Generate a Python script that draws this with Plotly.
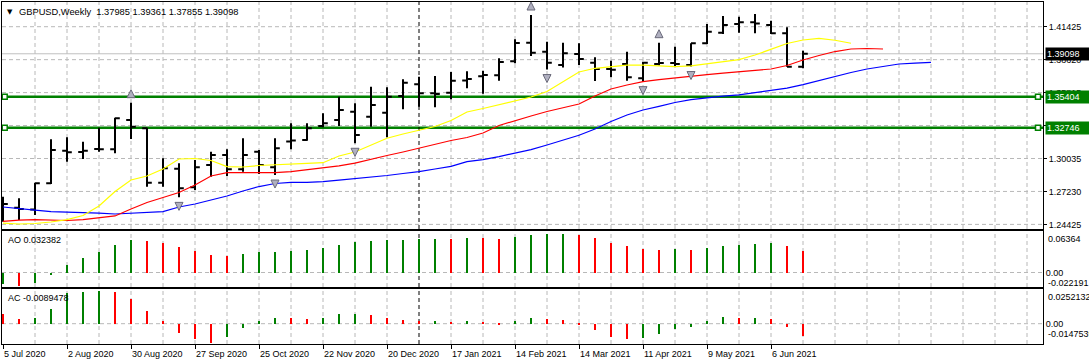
import plotly.graph_objects as go

# ---------------- data ----------------
bar_open = [1.2490, 1.2585, 1.2570, 1.2796, 1.3076, 1.3065, 1.3091, 1.3088, 1.3340, 1.3269,
            1.2801, 1.2922, 1.2761, 1.2953, 1.3039, 1.2916, 1.3068, 1.2933, 1.3155, 1.3168,
            1.3289, 1.3340, 1.3412, 1.3369, 1.3403, 1.3547, 1.3647, 1.3570, 1.3575, 1.3681,
            1.3716, 1.3724, 1.3845, 1.4005, 1.3928, 1.3813, 1.3908, 1.3833, 1.3779, 1.3822,
            1.3699, 1.3822, 1.3830, 1.3813, 1.4000, 1.4091, 1.4165, 1.4180, 1.4157, 1.4086,
            1.37985]
bar_high = [1.2681, 1.2667, 1.2801, 1.3174, 1.3191, 1.3154, 1.3274, 1.3360, 1.3489, 1.3274,
            1.3011, 1.2968, 1.2996, 1.3068, 1.3088, 1.3183, 1.3082, 1.3183, 1.3312, 1.3312,
            1.3398, 1.3541, 1.3484, 1.3627, 1.3621, 1.3690, 1.3713, 1.3719, 1.3753, 1.3759,
            1.3764, 1.3871, 1.4034, 1.4243, 1.4014, 1.4005, 1.4000, 1.3879, 1.3850, 1.3928,
            1.3842, 1.4005, 1.3971, 1.4000, 1.4166, 1.4235, 1.4229, 1.4252, 1.4194, 1.4137,
            1.39361]
bar_low = [1.2466, 1.2480, 1.2523, 1.2790, 1.2982, 1.3005, 1.3068, 1.3054, 1.3177, 1.2767,
           1.2767, 1.2675, 1.2738, 1.2853, 1.2859, 1.2896, 1.2876, 1.2867, 1.3088, 1.3162,
           1.3277, 1.3289, 1.3140, 1.3283, 1.3191, 1.3432, 1.3455, 1.3449, 1.3518, 1.3613,
           1.3566, 1.3678, 1.3828, 1.3891, 1.3774, 1.3792, 1.3813, 1.3676, 1.3707, 1.3678,
           1.3670, 1.3809, 1.3805, 1.3800, 1.3994, 1.4080, 1.4091, 1.4086, 1.4080, 1.3798,
           1.37855]
bar_close = [1.2618, 1.2575, 1.2796, 1.3082, 1.3062, 1.3076, 1.3088, 1.3355, 1.3283, 1.2801,
             1.2925, 1.2753, 1.2933, 1.3039, 1.2916, 1.3039, 1.2953, 1.3097, 1.3164, 1.3269,
             1.3312, 1.3426, 1.3211, 1.3469, 1.3541, 1.3661, 1.3570, 1.3564, 1.3678, 1.3693,
             1.3727, 1.3839, 1.4002, 1.3919, 1.3833, 1.3914, 1.3865, 1.3779, 1.3772, 1.3707,
             1.3833, 1.3830, 1.3822, 1.4000, 1.4100, 1.4157, 1.4180, 1.4170, 1.4086, 1.3798,
             1.39098]

# Alligator lines (already shifted forward, one value per bar slot)
jaw = [1.2592, 1.2576, 1.2566, 1.2552, 1.2549, 1.2546, 1.2540, 1.2532, 1.2538, 1.2545,
       1.2552, 1.2592, 1.2618, 1.2652, 1.2687, 1.2730, 1.2768, 1.2794, 1.2803, 1.2804,
       1.2810, 1.2824, 1.2835, 1.2847, 1.2863, 1.2880, 1.2896, 1.2919, 1.2942, 1.2982,
       1.3000, 1.3026, 1.3056, 1.3086, 1.3125, 1.3168, 1.3209, 1.3263, 1.3327, 1.3383,
       1.3426, 1.3458, 1.3491, 1.3516, 1.3534, 1.3546, 1.3557, 1.3577, 1.3594, 1.3615,
       1.3645, 1.3680, 1.3716, 1.3749, 1.3779, 1.3802, 1.3822, 1.3830, 1.3836]
teeth = [1.2469, 1.2480, 1.2484, 1.2482, 1.2476, 1.2484, 1.2502, 1.2515, 1.2575, 1.2631,
         1.2674, 1.2717, 1.2781, 1.2859, 1.2887, 1.2887, 1.2887, 1.2887, 1.2897, 1.2914,
         1.2932, 1.2945, 1.2970, 1.3005, 1.3035, 1.3065, 1.3097, 1.3134, 1.3164, 1.3190,
         1.3228, 1.3293, 1.3336, 1.3375, 1.3413, 1.3448, 1.3478, 1.3546, 1.3607, 1.3641,
         1.3670, 1.3688, 1.3704, 1.3717, 1.3731, 1.3744, 1.3757, 1.3770, 1.3779, 1.3809,
         1.3856, 1.3895, 1.3929, 1.3951, 1.3955, 1.3951]
lips = [1.2454, 1.2446, 1.2450, 1.2463, 1.2484, 1.2519, 1.2601, 1.2725, 1.2824, 1.2859,
        1.2919, 1.3005, 1.3009, 1.2992, 1.2940, 1.2936, 1.2949, 1.2957, 1.2964, 1.2968,
        1.2973, 1.3031, 1.3065, 1.3125, 1.3183, 1.3220, 1.3254, 1.3284, 1.3336, 1.3409,
        1.3439, 1.3473, 1.3504, 1.3538, 1.3585, 1.3670, 1.3753, 1.3785, 1.3799, 1.3813,
        1.3813, 1.3805, 1.3799, 1.3805, 1.3824, 1.3839, 1.3860, 1.3899, 1.3951, 1.3998,
        1.4028, 1.4043, 1.4026, 1.4000]

fractal_up_idx = [8, 33, 41, 47]
fractal_down_idx = [11, 17, 22, 34, 40, 43]

ao_values = [-0.0176, -0.0200, -0.0156, -0.0035, 0.0111, 0.0217, 0.0322, 0.0428, 0.0504, 0.0488,
             0.0458, 0.0398, 0.0337, 0.0262, 0.0247, 0.0277, 0.0307, 0.0322, 0.0337, 0.0352,
             0.0383, 0.0428, 0.0473, 0.0488, 0.0493, 0.0504, 0.0509, 0.0519, 0.0514, 0.0534,
             0.0529, 0.0519, 0.0549, 0.0579, 0.0584, 0.0594, 0.0579, 0.0534, 0.0458, 0.0413,
             0.0368, 0.0352, 0.0357, 0.0350, 0.0383, 0.0413, 0.0428, 0.0443, 0.0458, 0.0413,
             0.032382]
ac_values = [0.0070, 0.0033, 0.0040, 0.0108, 0.0222, 0.0230, 0.0240, 0.0229, 0.0176, 0.0093,
             0.0018, -0.0064, -0.0109, -0.0140, -0.0096, -0.0033, 0.0020, 0.0040, 0.0038, 0.0033,
             0.0040, 0.0070, 0.0071, 0.0063, 0.0040, 0.0025, 0.0018, 0.0019, 0.0010, 0.0018,
             0.0010, -0.0008, 0.0018, 0.0040, 0.0033, 0.0025, -0.0005, -0.0048, -0.0098, -0.0112,
             -0.0106, -0.0075, -0.0035, -0.0021, 0.0018, 0.0048, 0.0040, 0.0042, 0.0033, -0.0025,
             -0.0089478]
ao_first_up = True
ac_first_up = False

support_levels = [1.35404, 1.32746]
last_price = 1.39098

price_tick_vals = [1.24425, 1.272583, 1.300917, 1.32925, 1.357583, 1.385917, 1.41425]
price_tick_text = ["1.24425", "1.27230", "1.30035", "1.33010", "1.35815", "1.38620", "1.41425"]

ao_range = [-0.022191, 0.06364]
ac_range = [-0.014753, 0.0252132]
ao_label_text = ["0.06364", "-0.022191"]
ac_label_text = ["0.0252132", "-0.0147539"]

date_label_idx = [0, 4, 8, 12, 16, 20, 24, 28, 32, 36, 40, 44, 48]
date_labels = ["5 Jul 2020", "2 Aug 2020", "30 Aug 2020", "27 Sep 2020", "25 Oct 2020",
               "22 Nov 2020", "20 Dec 2020", "17 Jan 2021", "14 Feb 2021", "14 Mar 2021",
               "11 Apr 2021", "9 May 2021", "6 Jun 2021"]
year_sep_idx = 26
grid_step = 2

header_symbol = "GBPUSD,Weekly"
ao_name = "AO"
ac_name = "AC"

# ---------------- styling / geometry ----------------
W, H = 1089, 364
ML, MR, MT, MB = 2, 46, 2, 20
FONT = "Liberation Sans"
GRID = "#b8b8b8"
DASH = "4px,3px"
GREEN = "#008000"
UPC = "#008000"
DNC = "#ff0000"

XR = [-0.0625, 65.0]
YR = [1.2403, 1.4355]
MAIN_DOM = [0.3363, 1.0]
AO_DOM = [0.1667, 0.3304]
AC_DOM = [0.0, 0.1608]
plot_h = H - MT - MB
main_px = (MAIN_DOM[1] - MAIN_DOM[0]) * plot_h
price_per_px = (YR[1] - YR[0]) / main_px
FR_OFF = 13 * price_per_px

n = len(bar_close)
idx = list(range(n))


def bar_colors(vals, first_up):
    cols = [UPC if first_up else DNC]
    for k in range(1, len(vals)):
        cols.append(UPC if vals[k] > vals[k - 1] else DNC)
    return cols


fig = go.Figure()

# Alligator
for vals, col in [(jaw, "#0000ff"), (teeth, "#ff0000"), (lips, "#ffff00")]:
    fig.add_trace(go.Scatter(x=list(range(len(vals))), y=vals, mode="lines",
                             line=dict(color=col, width=1.2), hoverinfo="skip",
                             showlegend=False, xaxis="x", yaxis="y"))

# price bars
fig.add_trace(go.Ohlc(x=idx, open=bar_open, high=bar_high, low=bar_low, close=bar_close,
                      increasing=dict(line=dict(color="black", width=2)),
                      decreasing=dict(line=dict(color="black", width=2)),
                      tickwidth=0.3, hoverinfo="skip", showlegend=False,
                      xaxis="x", yaxis="y"))

# fractals
fr_marker = dict(size=8, color="#b0b0c0", line=dict(color="#6a6a7a", width=1))
fig.add_trace(go.Scatter(x=fractal_up_idx, y=[bar_high[i] + FR_OFF for i in fractal_up_idx],
                         mode="markers", marker=dict(symbol="arrow-up", **fr_marker),
                         hoverinfo="skip", showlegend=False, xaxis="x", yaxis="y"))
fig.add_trace(go.Scatter(x=fractal_down_idx, y=[bar_low[i] - FR_OFF for i in fractal_down_idx],
                         mode="markers", marker=dict(symbol="arrow-down", **fr_marker),
                         hoverinfo="skip", showlegend=False, xaxis="x", yaxis="y"))

# anchor squares on the horizontal lines
x_left_anchor = XR[0] + 2.7 / 16
x_right_anchor = XR[1] - 5 / 16
for lvl in support_levels:
    fig.add_trace(go.Scatter(x=[x_left_anchor, x_right_anchor], y=[lvl, lvl], mode="markers",
                             marker=dict(symbol="square", size=5, color="white",
                                         line=dict(color=GREEN, width=1.5)),
                             hoverinfo="skip", showlegend=False, xaxis="x", yaxis="y", cliponaxis=False))

# AO / AC
fig.add_trace(go.Bar(x=idx, y=ao_values, marker=dict(color=bar_colors(ao_values, ao_first_up), line=dict(width=0)),
                     width=0.16, hoverinfo="skip", showlegend=False, xaxis="x2", yaxis="y2"))
fig.add_trace(go.Bar(x=idx, y=ac_values, marker=dict(color=bar_colors(ac_values, ac_first_up), line=dict(width=0)),
                     width=0.16, hoverinfo="skip", showlegend=False, xaxis="x3", yaxis="y3"))

tickfont = dict(family=FONT, size=9, color="black")


def xaxis(anchor, ticks):
    return dict(range=XR, domain=[0, 1], anchor=anchor, showline=True, linecolor="black", linewidth=1,
                mirror=True, showgrid=False, tickmode="array", tickvals=date_label_idx,
                showticklabels=False, zeroline=False, ticks=ticks, ticklen=4, tickcolor="black",
                fixedrange=True, rangeslider=dict(visible=False))


shapes = []
grid_line = dict(color=GRID, width=1, dash=DASH)
# vertical grid in each panel
grid_x = list(range(0, int(XR[1]) + 1, grid_step))
for xr, yr in [("x", "y domain"), ("x2", "y2 domain"), ("x3", "y3 domain")]:
    for gx in grid_x:
        if gx == year_sep_idx or gx == 0:
            continue
        shapes.append(dict(type="line", xref=xr, yref=yr, x0=gx, x1=gx, y0=0, y1=1,
                           line=grid_line, layer="below"))
# horizontal grid
for gy in price_tick_vals:
    shapes.append(dict(type="line", xref="x domain", yref="y", x0=0, x1=1, y0=gy, y1=gy,
                       line=grid_line, layer="below"))
for yr in ["y2", "y3"]:
    shapes.append(dict(type="line", xref="x domain", yref=yr, x0=0, x1=1, y0=0, y1=0,
                       line=grid_line, layer="below"))
# current price line
shapes.append(dict(type="line", xref="x domain", yref="y", x0=0, x1=1, y0=last_price, y1=last_price,
                   line=dict(color="#c0c0c0", width=1), layer="below"))
for lvl in support_levels:
    shapes.append(dict(type="line", xref="x domain", yref="y", x0=0, x1=1, y0=lvl, y1=lvl,
                       line=dict(color=GREEN, width=2.5), layer="below"))
for xr, yr in [("x", "y domain"), ("x2", "y2 domain"), ("x3", "y3 domain")]:
    shapes.append(dict(type="line", xref=xr, yref=yr, x0=year_sep_idx, x1=year_sep_idx, y0=0, y1=1,
                       line=dict(color="black", width=1, dash=DASH), layer="below"))

ann = []
afont = dict(family=FONT, size=9, color="black")
ann.append(dict(text="▼", xref="paper", yref="paper", x=0, y=1, xanchor="left", yanchor="top",
                xshift=3, yshift=-4, showarrow=False, font=dict(family="DejaVu Sans", size=7, color="black")))
ohlc_txt = "\u00a0".join(f"{v:.5f}" for v in [bar_open[-1], bar_high[-1], bar_low[-1], bar_close[-1]])
ann.append(dict(text=header_symbol + "\u00a0\u00a0" + ohlc_txt, xref="paper", yref="paper", x=0, y=1,
                xanchor="left", yanchor="top", xshift=15, yshift=-3, showarrow=False,
                font=dict(family=FONT, size=9.3, color="black")))
ann.append(dict(text=f"{ao_name} {ao_values[-1]:.6f}", xref="paper", yref="y2 domain", x=0, y=1,
                xanchor="left", yanchor="top", xshift=4, yshift=-2, showarrow=False, font=afont))
ann.append(dict(text=f"{ac_name} {ac_values[-1]:.7f}", xref="paper", yref="y3 domain", x=0, y=1,
                xanchor="left", yanchor="top", xshift=4, yshift=-2, showarrow=False, font=afont))

# right-side value boxes
for val, bg in [(last_price, "black")] + [(lvl, GREEN) for lvl in support_levels]:
    ann.append(dict(text=f"{val:.5f}", xref="paper", yref="y", x=1, y=val, xanchor="left",
                    yanchor="middle", xshift=2, showarrow=False, bgcolor=bg, borderpad=1,
                    width=44, align="left", font=dict(family=FONT, size=9, color="white")))

# AO / AC scale labels
for yref, txts in [("y2", ao_label_text), ("y3", ac_label_text)]:
    ann.append(dict(text=txts[0], xref="paper", yref=yref + " domain", x=1, y=1, xanchor="left",
                    yanchor="top", xshift=3, yshift=-1, showarrow=False, font=afont))
    ann.append(dict(text=txts[1], xref="paper", yref=yref, x=1, y=0, xanchor="left",
                    yanchor="top", xshift=3, yshift=-3, showarrow=False, font=afont))

# date labels
for i, lab in zip(date_label_idx, date_labels):
    ann.append(dict(text=lab, xref="x3", yref="paper", x=i, y=0, xanchor="left", yanchor="top",
                    xshift=-1, yshift=-3, showarrow=False, font=afont))

common_y = dict(side="right", showline=True, mirror=True, linecolor="black", linewidth=1,
                tickmode="array", showgrid=False, zeroline=False,
                tickfont=tickfont, fixedrange=True, automargin=False)

fig.update_layout(
    width=W, height=H, margin=dict(l=ML, r=MR, t=MT, b=MB, pad=0, autoexpand=False),
    paper_bgcolor="white", plot_bgcolor="white", showlegend=False, bargap=0,
    font=dict(family=FONT, size=9, color="black"),
    xaxis=xaxis("y", ""), xaxis2=xaxis("y2", ""), xaxis3=xaxis("y3", "outside"),
    yaxis=dict(domain=MAIN_DOM, range=YR, anchor="x", tickvals=price_tick_vals,
               ticktext=price_tick_text, ticks="outside", ticklen=3, tickcolor="black", **common_y),
    yaxis2=dict(domain=AO_DOM, range=ao_range, anchor="x2", tickvals=[0], ticktext=["0.00"],
                ticks="", **common_y),
    yaxis3=dict(domain=AC_DOM, range=ac_range, anchor="x3", tickvals=[0], ticktext=["0.00"],
                ticks="", **common_y),
    shapes=shapes, annotations=ann,
)

fig.write_html("out.html", config={"displayModeBar": False},
               post_script="document.body.style.margin='0px';document.body.style.overflow='hidden';")
